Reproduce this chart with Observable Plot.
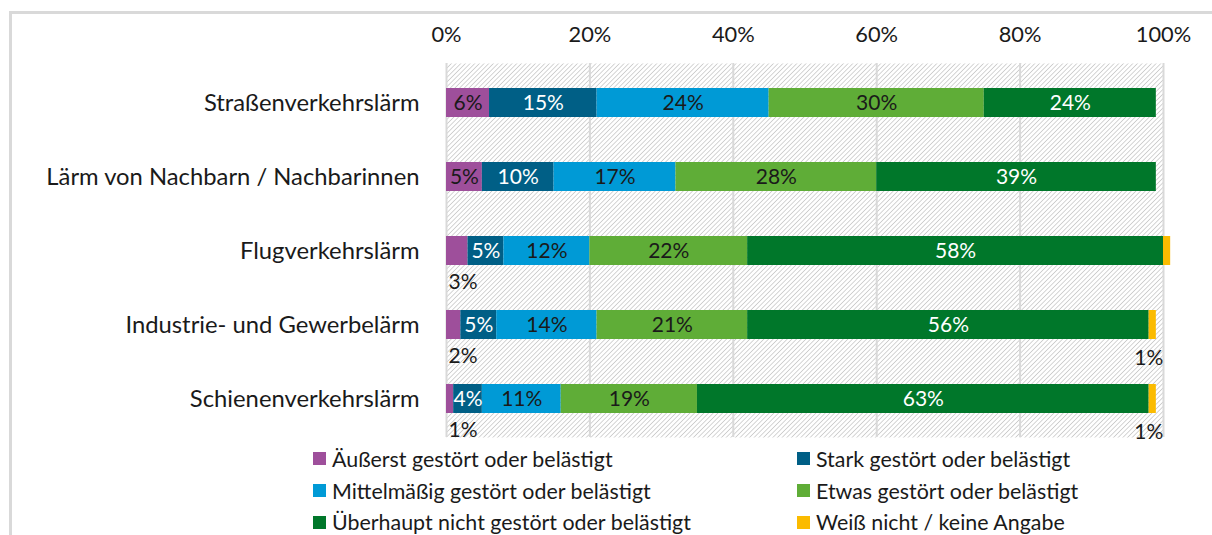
<!DOCTYPE html>
<html>
<head>
<meta charset="utf-8">
<script src="https://cdn.jsdelivr.net/npm/d3@7"></script>
<script src="https://cdn.jsdelivr.net/npm/@observablehq/plot@0.6"></script>
<style>
  html, body { margin: 0; padding: 0; background: #fff; }
  body { width: 1212px; height: 535px; position: relative; overflow: hidden; font-family: "Lato", sans-serif; }
  #frame { position: absolute; left: 9px; top: 11px; width: 1203px; height: 524px;
           border-left: 3px solid #d9d9d9; border-top: 3px solid #d9d9d9; box-sizing: border-box; }
  #chart { position: absolute; left: 0; top: 0; }
  #legend { position: absolute; left: 313px; top: 443px; display: grid;
            grid-template-columns: 484px 400px; row-gap: 0; color: #1a1a1a; font-size: 21.4px; }
  .item { display: flex; align-items: center; height: 31.7px; white-space: nowrap; }
  .sw { width: 13px; height: 13px; margin-right: 6px; flex: none; }
</style>
</head>
<body>
<div id="frame"></div>
<div id="chart"></div>
<div id="legend"></div>
<script>
const categories = ["Straßenverkehrslärm", "Lärm von Nachbarn / Nachbarinnen", "Flugverkehrslärm", "Industrie- und Gewerbelärm", "Schienenverkehrslärm"];
const series = ["Äußerst gestört oder belästigt", "Stark gestört oder belästigt", "Mittelmäßig gestört oder belästigt", "Etwas gestört oder belästigt", "Überhaupt nicht gestört oder belästigt", "Weiß nicht / keine Angabe"];
const aeusserst  = [6, 5, 3, 2, 1];
const stark      = [15, 10, 5, 5, 4];
const mittel     = [24, 17, 12, 14, 11];
const etwas      = [30, 28, 22, 21, 19];
const ueberhaupt = [24, 39, 58, 56, 63];
const weissNicht = [0, 0, 1, 1, 1];
const weissNichtLabels = ["", "", "", "1%", "1%"];
const xTicks = [0, 20, 40, 60, 80, 100];

const colors = ["#9e4f9b", "#005f86", "#009ad6", "#5fad37", "#00772a", "#fbbb00"];
const lightText = [false, true, false, false, true, false];

const valuesBySeries = [aeusserst, stark, mittel, etwas, ueberhaupt, weissNicht];
const rows = [];
categories.forEach((cat, i) => {
  series.forEach((s, j) => {
    const v = valuesBySeries[j][i];
    rows.push({
      cat, series: s, si: j, value: v,
      label: j === 5 ? weissNichtLabels[i] : v + "%",
      inside: j !== 5 && v >= 4,
      light: lightText[j]
    });
  });
});

const FS = 21;
const plot = Plot.plot({
  width: 1212,
  height: 445,
  marginTop: 63,
  marginBottom: 8,
  marginLeft: 446,
  marginRight: 49,
  style: { fontFamily: "Lato, sans-serif", color: "#1a1a1a", background: "transparent" },
  x: { domain: [0, 100] },
  y: { domain: categories, paddingInner: 0.612, paddingOuter: 0.306, align: 0.5 },
  color: { domain: series, range: colors },
  marks: [
    Plot.frame({ fill: "url(#hatch)", stroke: null }),
    Plot.gridX(xTicks, { stroke: "#d9d9d9", strokeOpacity: 1, strokeWidth: 2 }),
    Plot.barX(rows, Plot.stackX({ x: "value", y: "cat", fill: "series", order: null })),
    Plot.text(rows, Plot.stackX({ x: "value", y: "cat", text: d => d.inside && d.light ? d.label : null,
      fill: "#ffffff", fontSize: FS })),
    Plot.text(rows, Plot.stackX({ x: "value", y: "cat", text: d => d.inside && !d.light ? d.label : null,
      fill: "#1a1a1a", fontSize: FS })),
    Plot.text(rows, Plot.stackX1({ x: "value", y: "cat", text: d => d.si === 0 && !d.inside ? d.label : null,
      fill: "#1a1a1a", fontSize: FS, textAnchor: "start", dx: 2, dy: 31 })),
    Plot.text(rows, Plot.stackX({ x: "value", y: "cat", text: d => d.si === 5 && d.label ? d.label : null,
      fill: "#1a1a1a", fontSize: FS, dx: -4, dy: 33 })),
    Plot.axisX(xTicks, { anchor: "top", tickSize: 0, tickPadding: 22, tickFormat: d => d + "%", fontSize: 21.8, label: null }),
    Plot.axisY({ anchor: "left", tickSize: 0, tickPadding: 27, fontSize: 23.8, label: null })
  ]
});

// hatch pattern definition
const svg = d3.select(plot);
const defs = svg.insert("defs", ":first-child");
const pat = defs.append("pattern")
  .attr("id", "hatch")
  .attr("patternUnits", "userSpaceOnUse")
  .attr("width", 3.3).attr("height", 3.3)
  .attr("patternTransform", "rotate(45)");
pat.append("rect").attr("width", 3.3).attr("height", 3.3).attr("fill", "#ffffff");
pat.append("line").attr("x1", 0).attr("y1", 0).attr("x2", 0).attr("y2", 3.3)
  .attr("stroke", "#b3b3b3").attr("stroke-width", 1.1);

document.getElementById("chart").appendChild(plot);

const legend = document.getElementById("legend");
series.forEach((s, j) => {
  const it = document.createElement("div");
  it.className = "item";
  const sw = document.createElement("span");
  sw.className = "sw";
  sw.style.background = colors[j];
  const t = document.createElement("span");
  t.textContent = s;
  it.appendChild(sw); it.appendChild(t);
  legend.appendChild(it);
});
</script>
</body>
</html>
